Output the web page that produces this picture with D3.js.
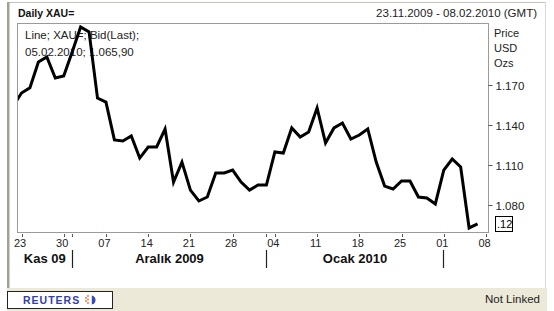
<!DOCTYPE html>
<html>
<head>
<meta charset="utf-8">
<script src="https://cdn.jsdelivr.net/npm/d3@7"></script>
<style>
  body { margin: 0; background: #fff; }
  svg { display: block; font-family: "Liberation Sans", Arial, sans-serif; }
  .axis text { font-size: 11.5px; fill: #222; }
  .axis line { stroke: #555; }
</style>
</head>
<body>
<div id="chart"></div>
<script>
// XAU= bid, one value per weekday, 20.11.2009 .. 05.02.2010
const firstDay = "2009-11-20";
const lastDay = "2010-02-08";
const bid = [1154, 1164, 1168, 1187.2, 1191, 1175.2, 1176.8, 1194.8, 1213.5, 1209.8,
  1160.2, 1157.2, 1128.8, 1128, 1131.8, 1115.2, 1123.5, 1123.5, 1137, 1097.2,
  1112.2, 1091.2, 1083, 1086, 1104, 1104, 1106.2, 1097.2, 1091.2, 1095,
  1095, 1119.8, 1119, 1137.8, 1131, 1134.8, 1152.8, 1126.5, 1137.8, 1141.5,
  1129.5, 1132.5, 1137, 1112.2, 1094.2, 1092, 1098, 1098, 1086, 1085.2,
  1080.8, 1106.2, 1114.5, 1108.5, 1062.8, 1065.9];
const lastLabel = 1065.90;

const dayTicks = ["2009-11-23", "2009-11-30", "2009-12-07", "2009-12-14", "2009-12-21", "2009-12-28",
  "2010-01-04", "2010-01-11", "2010-01-18", "2010-01-25", "2010-02-01", "2010-02-08"];
const monthStarts = ["2009-12-01", "2010-01-01", "2010-02-01"];
const monthLabels = ["Kas 09", "Aralık 2009", "Ocak 2010"];
const priceTicks = [1080, 1110, 1140, 1170];
const unitLabels = ["Price", "USD", "Ozs"];

const W = 554, H = 311;
const plot = { left: 17, top: 23, right: 488, bottom: 232 };

const parse = d3.utcParse("%Y-%m-%d");
const fmtDay = d3.utcFormat("%d");
const fmtDate = d3.utcFormat("%d.%m.%Y");
const tr = d3.formatLocale({ decimal: ",", thousands: ".", grouping: [3], currency: ["", ""] });

// weekday calendar (trading days), used as the x position
const calendar = d3.utcDays(parse(firstDay), d3.utcDay.offset(parse(lastDay), 1))
  .filter(d => d.getUTCDay() !== 0 && d.getUTCDay() !== 6);
const dayIndex = s => calendar.findIndex(d => +d === +parse(s));
const data = bid.map((v, i) => ({ date: calendar[i], i: i, v: v }));

const x = d3.scaleLinear()
  .domain([dayIndex("2009-11-23"), dayIndex("2010-02-08")])
  .range([21.5, 486]);
const y = d3.scaleLinear()
  .domain([1059.75, 1216.5])
  .range([plot.bottom, plot.top]);

const svg = d3.select("#chart").append("svg")
  .attr("width", W).attr("height", H);

// frame
svg.append("rect").attr("x", 0).attr("y", 0).attr("width", W).attr("height", H).attr("fill", "#fff");
svg.append("rect").attr("x", 7).attr("y", 288).attr("width", 540).attr("height", 23).attr("fill", "#ece9d8");
svg.append("line").attr("x1", 8).attr("x2", 545).attr("y1", 2.5).attr("y2", 2.5).attr("stroke", "#c4c2b8");
svg.append("line").attr("x1", 545.5).attr("x2", 545.5).attr("y1", 2).attr("y2", 288).attr("stroke", "#dddbd0");
svg.append("rect").attr("x", 7).attr("y", 2).attr("width", 2.5).attr("height", 286).attr("fill", "#a3a196");

// header
svg.append("text").attr("x", 18).attr("y", 17)
  .style("font-size", "10.5px").style("font-weight", "bold").attr("fill", "#111")
  .text("Daily XAU=");
svg.append("text").attr("x", 537).attr("y", 17).attr("text-anchor", "end")
  .style("font-size", "11.5px").attr("fill", "#222")
  .text(fmtDate(parse("2009-11-23")) + " - " + fmtDate(parse(lastDay)) + " (GMT)");

// plot box
svg.append("rect")
  .attr("x", plot.left + 0.5).attr("y", plot.top + 0.5)
  .attr("width", plot.right - plot.left).attr("height", plot.bottom - plot.top)
  .attr("fill", "#fff").attr("stroke", "#9a9a9a");

// legend text (under the line)
const last = data[data.length - 1];
svg.append("text").attr("x", 25).attr("y", 39).style("font-size", "11.5px").attr("fill", "#222")
  .text("Line; XAU=; Bid(Last);");
svg.append("text").attr("x", 25).attr("y", 56).style("font-size", "11.5px").attr("fill", "#222")
  .text(fmtDate(last.date) + "; " + tr.format(",.2f")(lastLabel));

// line
svg.append("clipPath").attr("id", "clip")
  .append("rect").attr("x", plot.left + 1).attr("y", plot.top + 1)
  .attr("width", plot.right - plot.left - 1).attr("height", plot.bottom - plot.top - 1);

const line = d3.line()
  .x(d => x(d.i))
  .y(d => y(d.v));

svg.append("path")
  .datum(data)
  .attr("clip-path", "url(#clip)")
  .attr("d", line)
  .attr("fill", "none")
  .attr("stroke", "#000")
  .attr("stroke-width", 3)
  .attr("stroke-linejoin", "miter");

// right price axis
const yAxis = svg.append("g")
  .attr("class", "axis")
  .attr("transform", "translate(" + (plot.right + 0.5) + ",0)")
  .call(d3.axisRight(y).tickValues(priceTicks).tickSize(4).tickPadding(3)
    .tickFormat(d => tr.format(",")(d)));
yAxis.select(".domain").remove();
yAxis.selectAll("text").attr("dy", "0.35em");

svg.selectAll(".unit")
  .data(unitLabels)
  .enter().append("text")
  .attr("class", "unit")
  .attr("x", 494).attr("y", (d, i) => 37 + i * 15)
  .style("font-size", "11px").attr("fill", "#222")
  .text(d => d);

// last value marker
const lastY = y(last.v);
svg.append("rect").attr("x", 495.5).attr("y", Math.round(lastY) - 7.5)
  .attr("width", 17).attr("height", 15).attr("fill", "#fff").attr("stroke", "#000");
svg.append("text").attr("x", 497).attr("y", Math.round(lastY) + 4)
  .style("font-size", "11px").attr("fill", "#000").text(".12");

// bottom day axis
const tickIdx = dayTicks.map(dayIndex).concat(monthStarts.slice(0, 2).map(dayIndex));
svg.append("g").selectAll("line")
  .data(tickIdx)
  .enter().append("line")
  .attr("x1", d => Math.round(x(d)) + 0.5).attr("x2", d => Math.round(x(d)) + 0.5)
  .attr("y1", 234).attr("y2", 237)
  .attr("stroke", "#555");

svg.append("g").attr("class", "axis").selectAll("text")
  .data(dayTicks)
  .enter().append("text")
  .attr("x", d => x(dayIndex(d)) - 1.5)
  .attr("y", 247)
  .attr("text-anchor", "middle")
  .style("font-size", "11px")
  .attr("fill", "#222")
  .text(d => fmtDay(parse(d)));

// months
const sepX = monthStarts.map(d => Math.round(x(dayIndex(d)) - 0.5) + 0.5);
svg.selectAll(".sep")
  .data(sepX)
  .enter().append("line")
  .attr("class", "sep")
  .attr("x1", d => d).attr("x2", d => d)
  .attr("y1", 250).attr("y2", 268)
  .attr("stroke", "#222").attr("stroke-width", 1.2);

const bounds = [plot.left].concat(sepX);
svg.selectAll(".month")
  .data(monthLabels)
  .enter().append("text")
  .attr("class", "month")
  .attr("x", (d, i) => (bounds[i] + bounds[i + 1]) / 2)
  .attr("y", 263)
  .attr("text-anchor", "middle")
  .style("font-size", "13px").style("font-weight", "bold").attr("fill", "#111")
  .text(d => d);

// footer
svg.append("rect").attr("x", 7.5).attr("y", 291.5).attr("width", 105).attr("height", 17)
  .attr("fill", "#fff").attr("stroke", "#222");
svg.append("text").attr("x", 23).attr("y", 304)
  .style("font-size", "10.5px").style("font-weight", "bold").style("letter-spacing", "1px")
  .attr("fill", "#3340a8").text("REUTERS");
const logo = svg.append("g").attr("transform", "translate(91,300)");
[[-5, -2], [-5, 1], [-3, -4], [-3, 3], [-3, -0.5]].forEach(p => {
  logo.append("circle").attr("cx", p[0]).attr("cy", p[1]).attr("r", 0.9).attr("fill", "#e8703a");
});
logo.append("path").attr("d", d3.arc()({ innerRadius: 0, outerRadius: 4.6, startAngle: 0, endAngle: Math.PI }))
  .attr("fill", "#3a4bb8");
logo.append("line").attr("x1", 0.5).attr("x2", 0.5).attr("y1", -5).attr("y2", 5).attr("stroke", "#fff").attr("stroke-width", 0.8);

svg.append("text").attr("x", 540).attr("y", 303).attr("text-anchor", "end")
  .style("font-size", "11.5px").attr("fill", "#222").text("Not Linked");
</script>
</body>
</html>
